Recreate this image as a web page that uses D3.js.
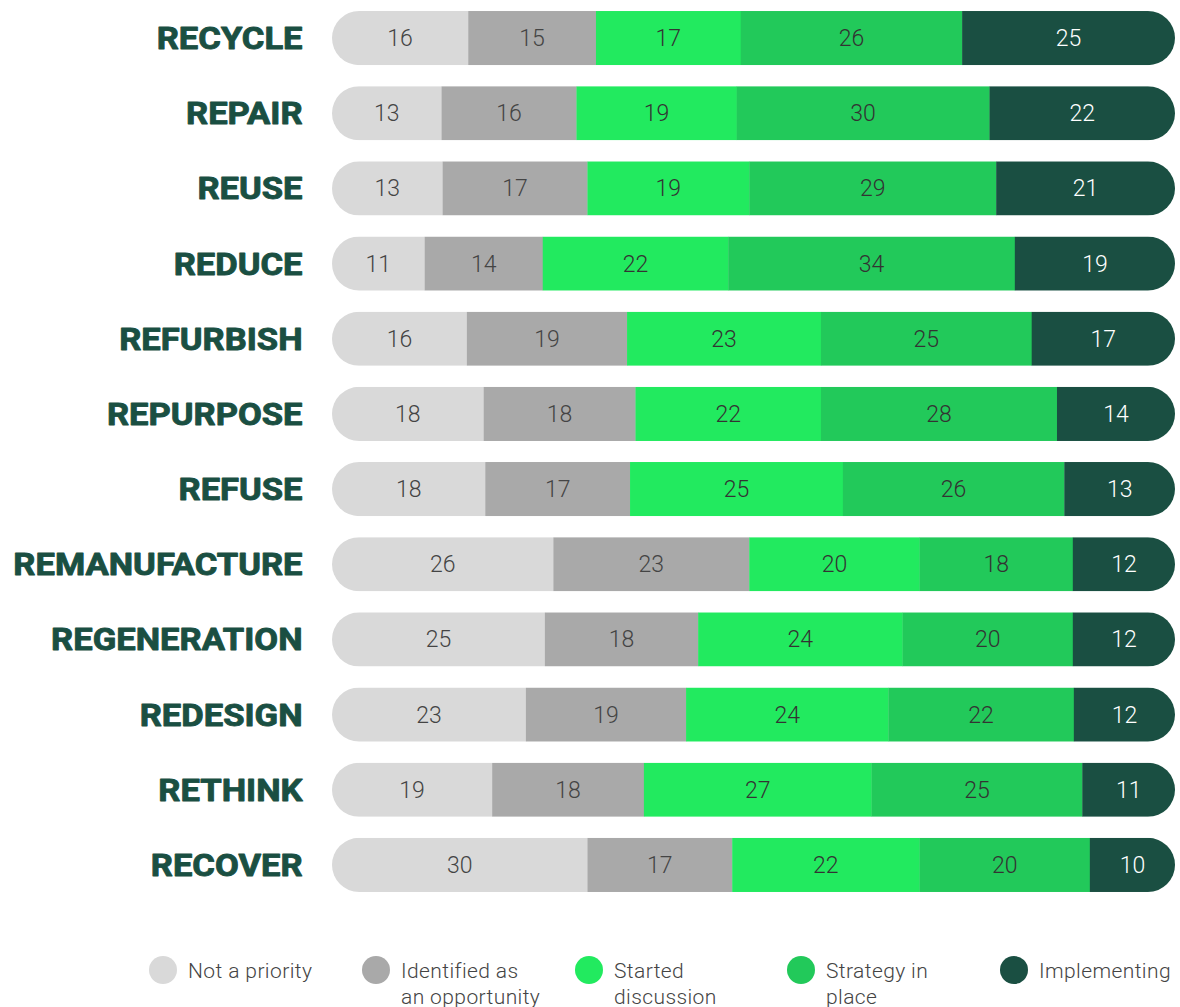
<!DOCTYPE html>
<html><head><meta charset="utf-8">
<script src="https://cdn.jsdelivr.net/npm/d3@7"></script>
<style>body{margin:0;background:#fff}svg{display:block}</style>
</head><body><svg id="c" width="1180" height="1007"></svg>
<script>
const categories = ["RECYCLE","REPAIR","REUSE","REDUCE","REFURBISH","REPURPOSE","REFUSE","REMANUFACTURE","REGENERATION","REDESIGN","RETHINK","RECOVER"];
const seriesNames = ["Not a priority","Identified as an opportunity","Started discussion","Strategy in place","Implementing"];
const legendLines = [["Not a priority"],["Identified as","an opportunity"],["Started","discussion"],["Strategy in","place"],["Implementing"]];
const notPriority = [16,13,13,11,16,18,18,26,25,23,19,30];
const identified  = [15,16,17,14,19,18,17,23,18,19,18,17];
const started     = [17,19,19,22,23,22,25,20,24,24,27,22];
const strategy    = [26,30,29,34,25,28,26,18,20,22,25,20];
const implementing= [25,22,21,19,17,14,13,12,12,12,11,10];
const colors = ["#d9d9d9","#a9a9a9","#22ea5f","#22c95a","#1a4f42"];
const textColors = ["#444","#444","#333","#333","#fff"];

const series = [notPriority, identified, started, strategy, implementing];
const svg = d3.select("#c");
const x0 = 332, x1 = 1175;
const y = d3.scaleBand().domain(categories).range([0.5, 902.5]).paddingInner(0.28).paddingOuter(0.14);
const bh = y.bandwidth();

const rows = categories.map((c,i)=>{
  const vals = series.map(s=>s[i]);
  const tot = d3.sum(vals);
  let acc = 0;
  const segs = vals.map((v,k)=>{ const s={k,v,a:acc,b:acc+v}; acc+=v; return s;});
  return {c,i,tot,segs};
});

const defs = svg.append("defs");
rows.forEach(r=>{
  defs.append("clipPath").attr("id","clip"+r.i).append("rect")
    .attr("x",x0).attr("y",y(r.c)).attr("width",x1-x0).attr("height",bh)
    .attr("rx",bh/2).attr("ry",bh/2);
});

rows.forEach(r=>{
  const xs = d3.scaleLinear().domain([0,r.tot]).range([x0,x1]);
  const g = svg.append("g").attr("clip-path",`url(#clip${r.i})`);
  g.selectAll("rect").data(r.segs).join("rect")
    .attr("x",d=>xs(d.a)).attr("y",y(r.c)).attr("width",d=>xs(d.b)-xs(d.a)+0.3).attr("height",bh)
    .attr("fill",d=>colors[d.k]);
  svg.append("g").selectAll("text").data(r.segs).join("text")
    .attr("x",d=>(xs(d.a)+xs(d.b))/2).attr("y",y(r.c)+bh/2+8)
    .attr("text-anchor","middle").attr("font-family","Roboto").attr("font-weight",300)
    .attr("font-size",23).attr("fill",d=>textColors[d.k]).text(d=>d.v);
  svg.append("text").attr("transform",`translate(303,${y(r.c)+bh/2+11}) scale(1.115,1)`)
    .attr("x",-0.4).attr("y",0)
    .attr("text-anchor","end").attr("font-family","Roboto").attr("font-weight",700)
    .attr("font-size",31)
    .attr("fill","#1a4f42").attr("stroke","#1a4f42").attr("stroke-width",0.9).attr("stroke-linejoin","round")
    .text(r.c);
});

const lx = [163,376,589,801,1014];
const lg = svg.append("g");
seriesNames.forEach((n,k)=>{
  lg.append("circle").attr("cx",lx[k]).attr("cy",970).attr("r",14).attr("fill",colors[k]);
  const t = lg.append("text").attr("font-family","Roboto").attr("font-weight",300).attr("font-size",21)
    .attr("letter-spacing",0.4).attr("fill","#444");
  legendLines[k].forEach((ln,j)=>{
    t.append("tspan").attr("x",lx[k]+25).attr("y",978+j*26).text(ln);
  });
});
</script></body></html>
